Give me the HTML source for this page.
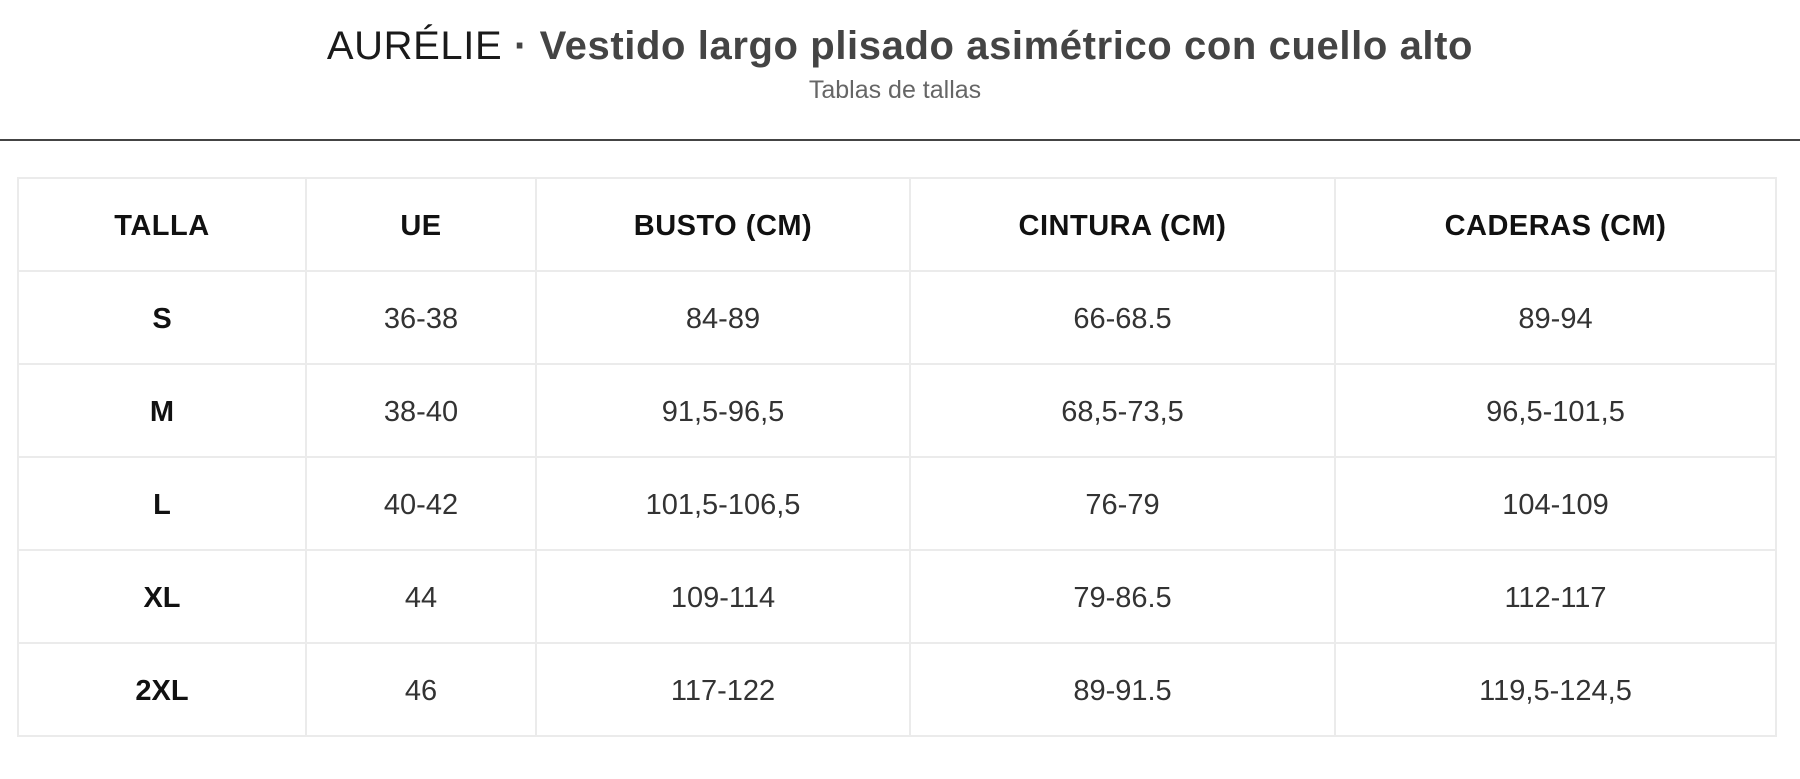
<!DOCTYPE html>
<html><head><meta charset="utf-8"><style>
html,body{margin:0;padding:0;background:#fff;width:1800px;height:779px;overflow:hidden;font-family:"Liberation Sans",sans-serif;}
.title{position:absolute;left:0;width:1800px;top:24px;text-align:center;font-size:40px;color:#444;font-weight:bold;letter-spacing:0.6px;}
.title .b{color:#1a1a1a;font-weight:normal;}
.sub{position:absolute;left:0;width:1790px;top:76px;text-align:center;font-size:25px;color:#666;}
.hr{position:absolute;left:0;top:139px;width:1800px;height:2px;background:#444;}
table{position:absolute;left:17px;top:177px;border-collapse:collapse;table-layout:fixed;}
td{border:2px solid #ebebeb;height:87px;text-align:center;font-size:29px;color:#333;padding:0;padding-top:4px;}
tr.h td{font-weight:bold;color:#111;font-size:29px;letter-spacing:0.5px;}
td.s{font-weight:bold;color:#111;}
</style></head><body>
<div class="title"><span class="b">AURÉLIE</span> · Vestido largo plisado asimétrico con cuello alto</div>
<div class="sub">Tablas de tallas</div>
<div class="hr"></div>
<table>
<colgroup><col style="width:288px"><col style="width:230px"><col style="width:374px"><col style="width:425px"><col style="width:441px"></colgroup>
<tr class="h"><td>TALLA</td><td>UE</td><td>BUSTO (CM)</td><td>CINTURA (CM)</td><td>CADERAS (CM)</td></tr>
<tr><td class="s">S</td><td>36-38</td><td>84-89</td><td>66-68.5</td><td>89-94</td></tr>
<tr><td class="s">M</td><td>38-40</td><td>91,5-96,5</td><td>68,5-73,5</td><td>96,5-101,5</td></tr>
<tr><td class="s">L</td><td>40-42</td><td>101,5-106,5</td><td>76-79</td><td>104-109</td></tr>
<tr><td class="s">XL</td><td>44</td><td>109-114</td><td>79-86.5</td><td>112-117</td></tr>
<tr><td class="s">2XL</td><td>46</td><td>117-122</td><td>89-91.5</td><td>119,5-124,5</td></tr>
</table>
</body></html>
